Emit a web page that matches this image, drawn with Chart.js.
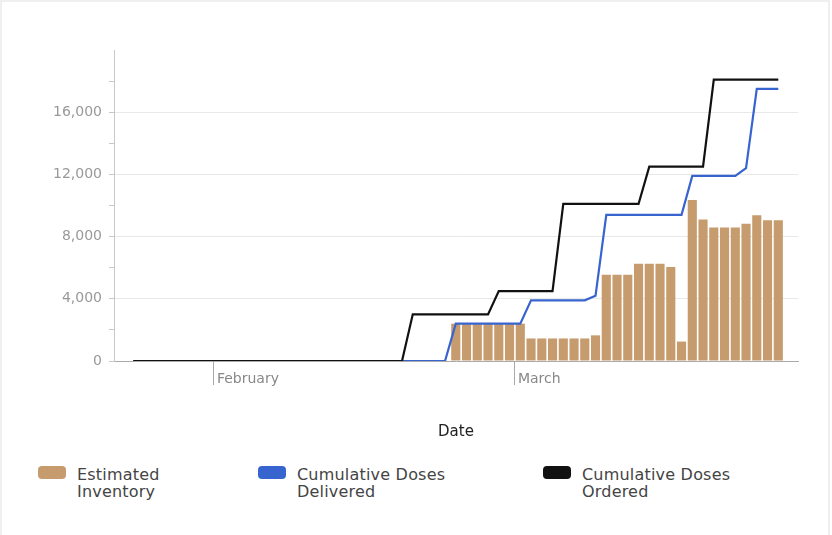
<!DOCTYPE html>
<html>
<head>
<meta charset="utf-8">
<script src="https://cdn.jsdelivr.net/npm/chart.js@4.4.1/dist/chart.umd.min.js"></script>
<style>
html,body{margin:0;padding:0;background:#fff;}
#wrap{position:relative;width:832px;height:535px;overflow:hidden;background:#fff;}
#frame{position:absolute;left:0;top:0;width:830px;height:535px;box-sizing:border-box;border:2px solid #efefef;border-bottom:none;pointer-events:none;}
#cw{position:absolute;left:0;top:0;width:832px;height:450px;}
.lgt{position:absolute;top:466px;font-family:"DejaVu Sans";font-size:16px;line-height:17px;letter-spacing:0.2px;color:#444;}
.lgs{position:absolute;top:466px;width:28px;height:13px;border-radius:4px;}
</style>
</head>
<body>
<div id="wrap">
  <div id="cw"><canvas id="c"></canvas></div>
  <div id="legend"></div>
  <div id="frame"></div>
</div>
<script>
// ---- data ----
const dates = [
  '2021-01-24','2021-01-25','2021-01-26','2021-01-27','2021-01-28','2021-01-29','2021-01-30','2021-01-31',
  '2021-02-01','2021-02-02','2021-02-03','2021-02-04','2021-02-05','2021-02-06','2021-02-07','2021-02-08',
  '2021-02-09','2021-02-10','2021-02-11','2021-02-12','2021-02-13','2021-02-14','2021-02-15','2021-02-16',
  '2021-02-17','2021-02-18','2021-02-19','2021-02-20','2021-02-21','2021-02-22','2021-02-23','2021-02-24',
  '2021-02-25','2021-02-26','2021-02-27','2021-02-28',
  '2021-03-01','2021-03-02','2021-03-03','2021-03-04','2021-03-05','2021-03-06','2021-03-07','2021-03-08',
  '2021-03-09','2021-03-10','2021-03-11','2021-03-12','2021-03-13','2021-03-14','2021-03-15','2021-03-16',
  '2021-03-17','2021-03-18','2021-03-19','2021-03-20','2021-03-21','2021-03-22','2021-03-23','2021-03-24',
  '2021-03-25'
];

const estimatedInventory = [
  null,null,null,null,null,null,null,null,
  null,null,null,null,null,null,null,null,
  null,null,null,null,null,null,null,null,
  null,null,null,null,null,null,2400,2400,
  2400,2400,2400,2400,
  2400,1450,1450,1450,1450,1450,1450,1650,
  5550,5550,5550,6250,6250,6250,6050,1250,
  10350,9100,8580,8580,8580,8830,9370,9050,
  9050
];

const cumulativeDelivered = [
  0,0,0,0,0,0,0,0,
  0,0,0,0,0,0,0,0,
  0,0,0,0,0,0,0,0,
  0,0,0,0,0,0,2400,2400,
  2400,2400,2400,2400,
  2400,3900,3900,3900,3900,3900,3900,4200,
  9400,9400,9400,9400,9400,9400,9400,9400,
  11900,11900,11900,11900,11900,12400,17500,17500,
  17500
];

const cumulativeOrdered = [
  0,0,0,0,0,0,0,0,
  0,0,0,0,0,0,0,0,
  0,0,0,0,0,0,0,0,
  0,0,3000,3000,3000,3000,3000,3000,
  3000,3000,4500,4500,
  4500,4500,4500,4500,10100,10100,10100,10100,
  10100,10100,10100,10100,12500,12500,12500,12500,
  12500,12500,18100,18100,18100,18100,18100,18100,
  18100
];

const seriesLabels = ['Estimated Inventory', 'Cumulative Doses Delivered', 'Cumulative Doses Ordered'];
const xTickDates = ['2021-02-01', '2021-03-01'];
const xTickLabels = ['February', 'March'];
const yTickValues = [0, 4000, 8000, 12000, 16000];
const yMax = 20000;
const xMinTime = '2021-01-22T17:00:00Z';
const xMaxTime = '2021-03-27T08:00:00Z';

// ---- helpers ----
const DAY = 86400000;
const dayNum = s => Date.parse(s.length === 10 ? s + 'T12:00:00Z' : s) / DAY;
const tickDay = s => Date.parse(s + 'T00:00:00Z') / DAY;
const pts = arr => dates.map((d, i) => ({x: dayNum(d), y: arr[i]}));

const colors = {
  inventory: 'rgb(198,156,110)',
  delivered: '#3864d0',
  ordered: '#111111'
};

Chart.defaults.font.family = '"DejaVu Sans", sans-serif';

const chart = new Chart(document.getElementById('c'), {
  type: 'bar',
  data: {
    datasets: [
      {
        type: 'line',
        label: seriesLabels[2],
        data: pts(cumulativeOrdered),
        borderColor: colors.ordered,
        backgroundColor: colors.ordered,
        borderWidth: 2.2,
        pointRadius: 0,
        tension: 0,
        fill: false,
        order: 0
      },
      {
        type: 'line',
        label: seriesLabels[1],
        data: pts(cumulativeDelivered),
        borderColor: colors.delivered,
        backgroundColor: colors.delivered,
        borderWidth: 2.2,
        pointRadius: 0,
        tension: 0,
        fill: false,
        order: 1
      },
      {
        type: 'bar',
        label: seriesLabels[0],
        data: pts(estimatedInventory),
        backgroundColor: colors.inventory,
        borderWidth: 0,
        barPercentage: 0.85,
        categoryPercentage: 1.0,
        order: 2
      }
    ]
  },
  options: {
    responsive: true,
    maintainAspectRatio: false,
    animation: false,
    layout: {padding: {left: 0, right: 34, top: 50, bottom: 0}},
    plugins: {legend: {display: false}, tooltip: {enabled: false}},
    scales: {
      x: {
        type: 'linear',
        offset: false,
        min: Date.parse(xMinTime) / DAY,
        max: Date.parse(xMaxTime) / DAY,
        afterBuildTicks: s => { s.ticks = xTickDates.map(d => ({value: tickDay(d)})); },
        afterFit: s => { s.height = 89; },
        ticks: {
          autoSkip: false,
          maxRotation: 0,
          minRotation: 0,
          align: 'start',
          labelOffset: 3,
          padding: -14,
          color: '#888',
          font: {size: 14},
          callback: (v, i) => xTickLabels[i]
        },
        grid: {offset: false, drawOnChartArea: false, drawTicks: true, tickLength: 24, tickColor: '#aaa', tickWidth: 1},
        border: {display: true, color: '#aaa', width: 1},
        title: {display: true, text: 'Date', color: '#222', font: {size: 15}, padding: {top: 0, bottom: 9}}
      },
      y: {
        min: 0,
        max: yMax,
        afterFit: s => { s.width = 114; },
        ticks: {
          stepSize: 2000,
          padding: 7,
          color: '#999',
          font: {size: 14},
          callback: v => yTickValues.includes(v) ? v.toLocaleString('en-US') : ''
        },
        grid: {
          color: c => (c.tick && yTickValues.includes(c.tick.value) && c.tick.value !== 0) ? '#e8e8e8' : 'rgba(0,0,0,0)',
          tickColor: c => (c.tick && c.tick.value === yMax) ? 'rgba(0,0,0,0)' : '#c8c8c8',
          tickLength: 5,
          lineWidth: 1
        },
        border: {display: true, color: '#c8c8c8', width: 1}
      }
    }
  }
});

// ---- HTML legend ----
const legendItems = [
  {label: seriesLabels[0], color: colors.inventory, sw: 38, tx: 77, w: 110},
  {label: seriesLabels[1], color: colors.delivered, sw: 258, tx: 297, w: 170},
  {label: seriesLabels[2], color: colors.ordered, sw: 543, tx: 582, w: 170}
];
const lg = document.getElementById('legend');
legendItems.forEach(it => {
  const s = document.createElement('div');
  s.className = 'lgs';
  s.style.left = it.sw + 'px';
  s.style.background = it.color;
  lg.appendChild(s);
  const t = document.createElement('div');
  t.className = 'lgt';
  t.style.left = it.tx + 'px';
  t.style.width = it.w + 'px';
  t.textContent = it.label;
  lg.appendChild(t);
});
</script>
</body>
</html>
